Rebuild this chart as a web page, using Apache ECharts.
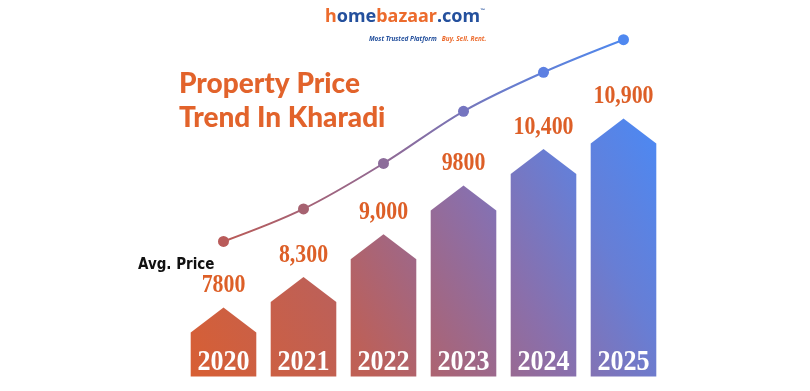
<!DOCTYPE html>
<html>
<head>
<meta charset="utf-8">
<script src="https://cdn.jsdelivr.net/npm/echarts@6/dist/echarts.min.js"></script>
<style>
html,body{margin:0;padding:0;background:#fff;}
#chart{width:810px;height:391px;}
</style>
</head>
<body>
<div id="chart"></div>
<script>
const categories = ['2020', '2021', '2022', '2023', '2024', '2025'];
const avgPrice = [7800, 8300, 9000, 9800, 10400, 10900];
const priceLabels = ['7800', '8,300', '9,000', '9800', '10,400', '10,900'];
const lineDotColors = ['#b95b5a', '#a66270', '#8c6c9a', '#7575c0', '#5d80e2', '#4f88f0'];

const BAR_MIN = 6667, BAR_MAX = 12574;
const LINE_MIN = 5725, LINE_MAX = 11257;

const chart = echarts.init(document.getElementById('chart'), null, {renderer: 'canvas'});

function renderHouse(params, api) {
  const idx = api.value(0);
  const v = api.value(1);
  const top = api.coord([idx, v]);
  const base = api.coord([idx, BAR_MIN]);
  const band = api.size([1, 0])[0];
  const hw = band * 0.41;
  const roof = 25;
  const cx = top[0];
  const g0 = api.coord([0, BAR_MIN]);
  const g1 = api.coord([categories.length - 1, avgPrice[avgPrice.length - 1]]);
  const fill = new echarts.graphic.LinearGradient(g0[0] - hw, g0[1], g1[0] + hw, g1[1], [
    {offset: 0, color: '#d85f33'},
    {offset: 0.3, color: '#bd6058'},
    {offset: 0.45, color: '#a4667f'},
    {offset: 0.62, color: '#8a6fab'},
    {offset: 0.8, color: '#677ed5'},
    {offset: 1, color: '#4b89f4'}
  ], true);
  return {
    type: 'group',
    children: [
      {
        type: 'polygon',
        shape: {points: [
          [cx - hw, base[1]], [cx - hw, top[1] + roof], [cx, top[1]],
          [cx + hw, top[1] + roof], [cx + hw, base[1]]
        ]},
        style: {fill: fill}
      },
      {
        type: 'text',
        x: cx, y: top[1] - 22,
        scaleX: 0.84,
        style: {
          text: priceLabels[idx], x: 0, y: 0,
          fill: '#dd5f27',
          font: 'bold 26px "Liberation Serif", "DejaVu Serif", serif',
          align: 'center', verticalAlign: 'middle'
        }
      },
      {
        type: 'text',
        x: cx, y: base[1] - 13.5,
        scaleX: 0.9,
        style: {
          text: categories[idx], x: 0, y: 0,
          fill: '#ffffff',
          font: 'bold 29px "Liberation Serif", "DejaVu Serif", serif',
          align: 'center', verticalAlign: 'middle'
        }
      }
    ]
  };
}

const option = {
  backgroundColor: '#ffffff',
  animation: false,
  title: [
    {
      text: '{h|h}{b|ome}{o|bazaar}{b|.com}{tm|™}',
      left: 325, top: 8, padding: 0,
      textStyle: {
        rich: {
          h: {color: '#ec6b2d', fontSize: 18, fontWeight: 'bold', fontFamily: 'Noto Sans'},
          b: {color: '#24509d', fontSize: 18, fontWeight: 'bold', fontFamily: 'Noto Sans'},
          o: {color: '#ec6b2d', fontSize: 18, fontWeight: 'bold', fontFamily: 'Noto Sans'},
          tm: {color: '#24509d', fontSize: 5, verticalAlign: 'top', padding: [0, 0, 12, 0]}
        }
      }
    },
    {
      text: '{b|Most Trusted Platform} {o|Buy. Sell. Rent.}',
      left: 369, top: 30, padding: 0,
      textStyle: {
        rich: {
          b: {color: '#24509d', fontSize: 6.4, fontWeight: 'bold', fontStyle: 'italic', fontFamily: 'Noto Sans'},
          o: {color: '#ec6b2d', fontSize: 6.4, fontWeight: 'bold', fontStyle: 'italic', fontFamily: 'Noto Sans'}
        }
      }
    },
    {
      text: 'Property Price\nTrend In Kharadi',
      left: 179, top: 67, padding: 0,
      textStyle: {
        color: '#e2632b',
        fontSize: 28,
        fontWeight: 900,
        fontFamily: 'Lato',
        lineHeight: 34
      }
    }
  ],
  graphic: [
    {
      type: 'text',
      left: 138, top: 258,
      style: {
        text: 'Avg. Price',
        fill: '#111111',
        font: 'bold 15px "Liberation Sans Narrow", "DejaVu Sans Condensed", sans-serif'
      }
    }
  ],
  grid: {left: 183.5, width: 480, top: 16.5, height: 360, containLabel: false},
  xAxis: {
    type: 'category',
    data: categories,
    boundaryGap: true,
    show: false
  },
  yAxis: [
    {type: 'value', min: BAR_MIN, max: BAR_MAX, show: false},
    {type: 'value', min: LINE_MIN, max: LINE_MAX, show: false}
  ],
  series: [
    {
      name: 'Avg. Price',
      type: 'line',
      yAxisIndex: 1,
      smooth: 0.35,
      symbol: 'circle',
      symbolSize: 11,
      z: 3,
      lineStyle: {
        width: 2,
        color: new echarts.graphic.LinearGradient(0, 0, 1, 0, [
          {offset: 0, color: '#bb5a55'},
          {offset: 0.45, color: '#8c6c9c'},
          {offset: 0.7, color: '#6a7ccc'},
          {offset: 1, color: '#4e88ee'}
        ])
      },
      data: avgPrice.map((v, i) => ({value: v, itemStyle: {color: lineDotColors[i]}}))
    },
    {
      name: 'Price',
      type: 'custom',
      yAxisIndex: 0,
      renderItem: renderHouse,
      z: 2,
      data: avgPrice.map((v, i) => [i, v])
    }
  ]
};
chart.setOption(option);
</script>
</body>
</html>
